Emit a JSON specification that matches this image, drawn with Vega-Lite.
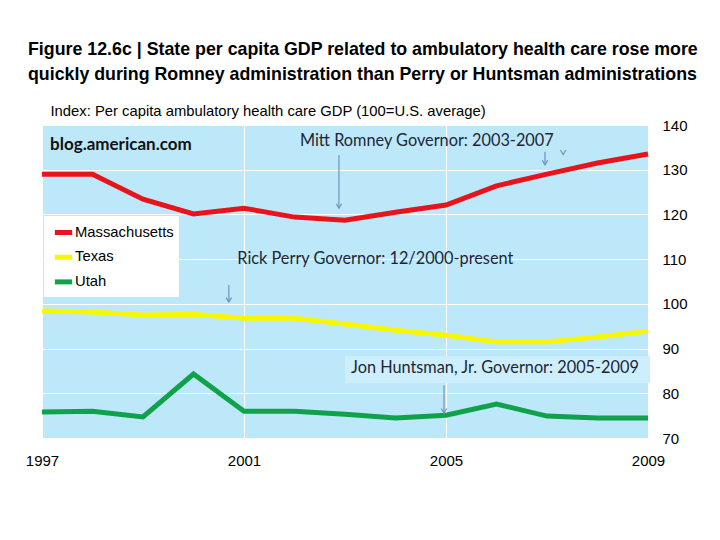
{
  "$schema": "https://vega.github.io/schema/vega-lite/v6.json",
  "width": 606,
  "height": 313,
  "autosize": "none",
  "padding": {"left": 42, "top": 125, "right": 72, "bottom": 102},
  "background": "white",
  "title": {
    "text": ["Figure 12.6c | State per capita GDP related to ambulatory health care rose more", "quickly during Romney administration than Perry or Huntsman administrations"],
    "anchor": "start",
    "frame": "group",
    "dx": -14,
    "offset": 19,
    "font": "Liberation Sans",
    "fontSize": 17.8,
    "fontWeight": "bold",
    "lineHeight": 25,
    "color": "#000000"
  },
  "config": {
    "view": {"fill": "#BDE8FA", "stroke": "#A9BCC8", "strokeWidth": 1}
  },
  "datasets": {
    "series": [
      {"year": 1997, "state": "Massachusetts", "value": 129.0},
      {"year": 1998, "state": "Massachusetts", "value": 129.0},
      {"year": 1999, "state": "Massachusetts", "value": 123.4},
      {"year": 2000, "state": "Massachusetts", "value": 120.1},
      {"year": 2001, "state": "Massachusetts", "value": 121.4},
      {"year": 2002, "state": "Massachusetts", "value": 119.4},
      {"year": 2003, "state": "Massachusetts", "value": 118.7},
      {"year": 2004, "state": "Massachusetts", "value": 120.5},
      {"year": 2005, "state": "Massachusetts", "value": 122.1},
      {"year": 2006, "state": "Massachusetts", "value": 126.4},
      {"year": 2007, "state": "Massachusetts", "value": 129.0},
      {"year": 2008, "state": "Massachusetts", "value": 131.5},
      {"year": 2009, "state": "Massachusetts", "value": 133.5},
      {"year": 1997, "state": "Texas", "value": 98.4},
      {"year": 1998, "state": "Texas", "value": 98.2},
      {"year": 1999, "state": "Texas", "value": 97.5},
      {"year": 2000, "state": "Texas", "value": 97.7},
      {"year": 2001, "state": "Texas", "value": 96.8},
      {"year": 2002, "state": "Texas", "value": 96.8},
      {"year": 2003, "state": "Texas", "value": 95.5},
      {"year": 2004, "state": "Texas", "value": 94.1},
      {"year": 2005, "state": "Texas", "value": 93.0},
      {"year": 2006, "state": "Texas", "value": 91.5},
      {"year": 2007, "state": "Texas", "value": 91.5},
      {"year": 2008, "state": "Texas", "value": 92.6},
      {"year": 2009, "state": "Texas", "value": 93.9},
      {"year": 1997, "state": "Utah", "value": 75.8},
      {"year": 1998, "state": "Utah", "value": 76.0},
      {"year": 1999, "state": "Utah", "value": 74.7},
      {"year": 2000, "state": "Utah", "value": 84.3},
      {"year": 2001, "state": "Utah", "value": 76.0},
      {"year": 2002, "state": "Utah", "value": 76.0},
      {"year": 2003, "state": "Utah", "value": 75.3},
      {"year": 2004, "state": "Utah", "value": 74.5},
      {"year": 2005, "state": "Utah", "value": 75.1},
      {"year": 2006, "state": "Utah", "value": 77.6},
      {"year": 2007, "state": "Utah", "value": 74.9},
      {"year": 2008, "state": "Utah", "value": 74.5},
      {"year": 2009, "state": "Utah", "value": 74.5}
    ],
    "box": [
      {"x1": 2003.0, "x2": 2009.04, "y1": 82.3, "y2": 88.3}
    ],
    "arrows": [
      {"year": 2002.88, "top": 133.3, "tip": 121.4},
      {"year": 2006.96, "top": 134.0, "tip": 131.1},
      {"year": 2000.70, "top": 104.2, "tip": 100.4},
      {"year": 2004.96, "top": 81.8, "tip": 75.6}
    ],
    "heads": [
      {"year": 2002.88, "tip": 121.4},
      {"year": 2006.96, "tip": 131.1},
      {"year": 2007.32, "tip": 133.4},
      {"year": 2000.70, "tip": 100.4},
      {"year": 2004.96, "tip": 75.6}
    ],
    "notes": [
      {"year": 2004.62, "value": 136.4, "label": "Mitt Romney Governor: 2003-2007"},
      {"year": 2003.6, "value": 110.0, "label": "Rick Perry Governor: 12/2000-present"},
      {"year": 2005.97, "value": 85.6, "label": "Jon Huntsman, Jr. Governor: 2005-2009"}
    ],
    "source": [
      {"year": 1997.16, "value": 135.5, "label": "blog.american.com"}
    ]
  },
  "layer": [
    {
      "data": {"name": "box"},
      "mark": {"type": "rect", "fill": "#CDEFFC", "clip": false},
      "encoding": {
        "x": {"field": "x1", "type": "quantitative", "scale": {"domain": [1997, 2009], "nice": false, "zero": false}, "axis": {"values": [1997, 2001, 2005, 2009], "format": "d", "title": null, "grid": true, "gridColor": "#FFFFFF", "gridWidth": 1, "domain": false, "ticks": false, "labelFont": "Liberation Sans", "labelFontSize": 15, "labelColor": "#000000", "labelPadding": 15, "labelFlush": false, "labelOverlap": false}},
        "x2": {"field": "x2"},
        "y": {"field": "y1", "type": "quantitative", "scale": {"domain": [70, 140], "nice": false, "zero": false}, "axis": {"orient": "right", "values": [70, 80, 90, 100, 110, 120, 130, 140], "grid": true, "gridColor": "#FFFFFF", "gridWidth": 1, "domain": false, "ticks": false, "labelFont": "Liberation Sans", "labelFontSize": 15, "labelColor": "#000000", "labelPadding": 14,
          "title": "Index: Per capita ambulatory health care GDP (100=U.S. average)",
          "titleAngle": 0, "titleX": -598, "titleY": -10, "titleAlign": "left", "titleBaseline": "alphabetic",
          "titleFont": "Liberation Sans", "titleFontSize": 14.8, "titleFontWeight": "normal", "titleColor": "#000000"}},
        "y2": {"field": "y2"}
      }
    },
    {
      "data": {"name": "series"},
      "mark": {"type": "line", "strokeWidth": 5},
      "encoding": {
        "x": {"field": "year", "type": "quantitative"},
        "y": {"field": "value", "type": "quantitative"},
        "color": {
          "field": "state", "type": "nominal",
          "scale": {"domain": ["Massachusetts", "Texas", "Utah"], "range": ["#E8141C", "#F7F700", "#0FA24B"]},
          "legend": {
            "title": null, "orient": "none", "legendX": 2, "legendY": 91,
            "fillColor": "#FFFFFF", "padding": 5, "symbolType": "stroke",
            "symbolStrokeWidth": 5, "symbolSize": 300, "symbolOffset": 3, "labelOffset": 0,
            "labelFont": "Liberation Sans",
            "labelFontSize": 14.8, "labelColor": "#000000", "rowPadding": 2.7
          }
        }
      }
    },
    {
      "data": {"name": "arrows"},
      "mark": {"type": "rule", "stroke": "#6F93BD", "strokeWidth": 1.2},
      "encoding": {
        "x": {"field": "year", "type": "quantitative"},
        "y": {"field": "top", "type": "quantitative"},
        "y2": {"field": "tip"}
      }
    },
    {
      "data": {"name": "heads"},
      "mark": {"type": "point", "shape": "M-0.6,-1L0,0L0.6,-1", "size": 80, "stroke": "#6F93BD", "strokeWidth": 1.2, "filled": false, "opacity": 1},
      "encoding": {
        "x": {"field": "year", "type": "quantitative"},
        "y": {"field": "tip", "type": "quantitative"}
      }
    },
    {
      "data": {"name": "notes"},
      "mark": {"type": "text", "font": "Lato", "fontSize": 16.3, "color": "#1E2636", "align": "center", "baseline": "middle"},
      "encoding": {
        "x": {"field": "year", "type": "quantitative"},
        "y": {"field": "value", "type": "quantitative"},
        "text": {"field": "label"}
      }
    },
    {
      "data": {"name": "source"},
      "mark": {"type": "text", "font": "Lato", "fontSize": 17, "fontWeight": "bold", "color": "#111111", "align": "left", "baseline": "middle"},
      "encoding": {
        "x": {"field": "year", "type": "quantitative"},
        "y": {"field": "value", "type": "quantitative"},
        "text": {"field": "label"}
      }
    }
  ]
}
